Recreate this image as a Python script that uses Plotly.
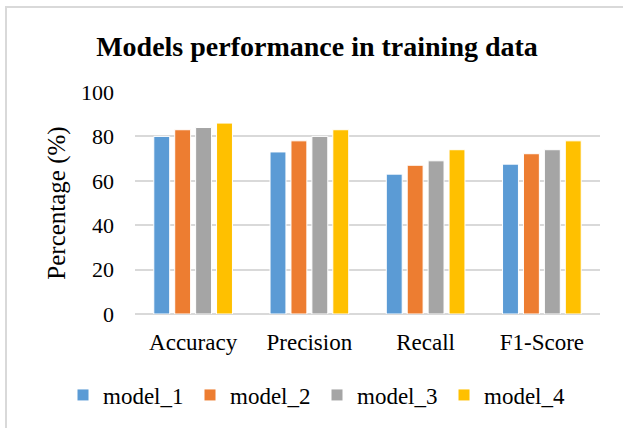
import plotly.graph_objects as go

categories = ["Accuracy", "Precision", "Recall", "F1-Score"]
model_1 = [80, 73, 63, 67.5]
model_2 = [83, 78, 67, 72.2]
model_3 = [84, 80, 69, 74]
model_4 = [86, 83, 74, 78]
series_names = ["model_1", "model_2", "model_3", "model_4"]
series_values = [model_1, model_2, model_3, model_4]
colors = ["#5B9BD5", "#ED7D31", "#A5A5A5", "#FFC000"]

FONT = "Liberation Serif, Times New Roman, serif"

fig = go.Figure()
for name, vals, c in zip(series_names, series_values, colors):
    fig.add_trace(go.Bar(x=categories, y=vals, name=name, marker_color=c,
                         marker_line_color="white", marker_line_width=1))

W, H = 623, 428
L, R, T, B = 135, 23, 92, 114
pw, ph = W - L - R, H - T - B

def px(x):
    return (x - L) / pw

def py(y):
    return (H - B - y) / ph

fig.update_layout(
    width=W, height=H,
    margin=dict(l=L, r=R, t=T, b=B, autoexpand=False),
    paper_bgcolor="white", plot_bgcolor="white",
    font=dict(family=FONT, size=23, color="#000000"),
    barmode="group", bargap=0.28, bargroupgap=0.24,
    title=dict(text="<b>Models performance in training data</b>",
               font=dict(family=FONT, size=28, color="#000000"),
               xref="container", x=317 / W, xanchor="center",
               yref="container", y=1 - 46 / H, yanchor="middle"),
    legend=dict(orientation="h", x=px(63), xanchor="left", y=py(395), yanchor="middle",
                font=dict(family=FONT, size=23), itemwidth=30, traceorder="normal",
                entrywidth=82, entrywidthmode="pixels"),
    showlegend=True,
)
fig.update_yaxes(range=[0, 100], dtick=20, showgrid=True, gridcolor="#d9d9d9", gridwidth=1.5,
                 zeroline=True, zerolinecolor="#d9d9d9", zerolinewidth=1.5,
                 showline=False, ticks="", ticklabelstandoff=20, automargin=False,
                 tickfont=dict(family=FONT, size=22),
                 title=dict(text="Percentage (%)", font=dict(family=FONT, size=25), standoff=8))
fig.update_xaxes(showline=False, ticks="", ticklabelstandoff=12, automargin=False,
                 tickfont=dict(family=FONT, size=23))

fig.add_shape(type="path", xref="paper", yref="paper",
              path=f"M {px(6)} {py(440)} L {px(6)} {py(7)} L {px(640)} {py(7)}",
              line=dict(color="#d9d9d9", width=2))

fig.write_html("out.html", config={"displayModeBar": False},
               post_script="document.body.style.margin='0';document.body.style.overflow='hidden';")
